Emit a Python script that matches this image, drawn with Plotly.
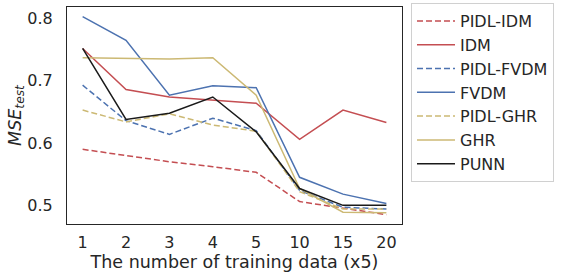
import plotly.graph_objects as go

categories = ["1", "2", "3", "4", "5", "10", "15", "20"]

pidl_idm = [0.590, 0.580, 0.570, 0.562, 0.553, 0.506, 0.495, 0.485]
idm = [0.752, 0.686, 0.674, 0.669, 0.664, 0.606, 0.653, 0.633]
pidl_fvdm = [0.693, 0.636, 0.614, 0.640, 0.620, 0.524, 0.497, 0.494]
fvdm = [0.803, 0.765, 0.677, 0.692, 0.689, 0.545, 0.518, 0.503]
pidl_ghr = [0.653, 0.634, 0.647, 0.629, 0.619, 0.522, 0.494, 0.494]
ghr = [0.737, 0.736, 0.735, 0.737, 0.677, 0.527, 0.489, 0.488]
punn = [0.752, 0.638, 0.648, 0.674, 0.618, 0.527, 0.500, 0.500]

series = [
    ("PIDL-IDM", pidl_idm, "#C44E52", "dash"),
    ("IDM", idm, "#C44E52", "solid"),
    ("PIDL-FVDM", pidl_fvdm, "#4C72B0", "dash"),
    ("FVDM", fvdm, "#4C72B0", "solid"),
    ("PIDL-GHR", pidl_ghr, "#CCB974", "dash"),
    ("GHR", ghr, "#CCB974", "solid"),
    ("PUNN", punn, "#1a1a1a", "solid"),
]

fig = go.Figure()
for name, vals, color, dash in series:
    fig.add_trace(go.Scatter(
        x=categories, y=vals, name=name, mode="lines",
        line=dict(color=color, dash="solid" if dash == "solid" else "6px,3px", width=1.5),
    ))

W, H = 566, 278
font = dict(family="DejaVu Sans", size=16, color="#262626")
fig.update_layout(
    width=W, height=H,
    margin=dict(l=67, r=164, t=7, b=54, autoexpand=False),
    paper_bgcolor="white", plot_bgcolor="white",
    font=font,
    showlegend=True,
    legend=dict(
        xref="container", yref="container",
        x=411 / W, xanchor="left", y=1 - 3 / H, yanchor="top",
        bgcolor="rgba(255,255,255,0.8)", bordercolor="#d0d0d0", borderwidth=1,
        font=dict(family="DejaVu Sans", size=16, color="#262626"),
        tracegroupgap=0, itemwidth=38, maxheight=260,
    ),
    xaxis=dict(
        type="category", range=[-0.36, 7.36], automargin=False,
        showline=True, linecolor="#262626", linewidth=1.25, mirror=True,
        showgrid=False, ticks="", zeroline=False, ticklabelstandoff=4,
        title=dict(text="The number of training data (x5)", font=dict(family="DejaVu Sans", size=17.5, color="#262626"), standoff=2),
    ),
    yaxis=dict(
        range=[0.470, 0.8186], automargin=False,
        tickvals=[0.5, 0.6, 0.7, 0.8], tickformat=".1f",
        showline=True, linecolor="#262626", linewidth=1.25, mirror=True,
        showgrid=False, ticks="", zeroline=False, ticklabelstandoff=10,
        title=dict(text="<i>MSE</i><sub><i>test</i></sub>", font=dict(family="DejaVu Sans", size=17.5, color="#262626"), standoff=1),
    ),
)

fig.write_html("out.html", config={"displayModeBar": False},
               post_script="document.body.style.margin='0px';")
